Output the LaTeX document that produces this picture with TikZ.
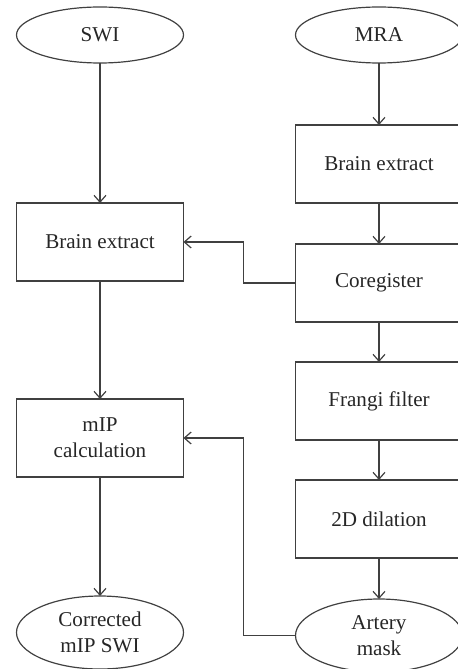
\documentclass[tikz,border=0pt]{standalone}
\usepackage{tikz}
\usetikzlibrary{arrows.meta, positioning, shapes.geometric}
\usepackage{fontspec}
\setmainfont{Liberation Serif}

\begin{document}
\begin{tikzpicture}[
    stage/.style = {rectangle, draw=black!75, line width=0.85pt,
                    minimum height=1.95cm, minimum width=4.175cm,
                    outer sep=0pt, align=center, text=black!85,
                    font=\fontsize{15}{18.5}\selectfont},
    io/.style    = {ellipse, draw=black!75, line width=0.85pt,
                    minimum height=1.4cm, minimum width=4.175cm,
                    inner sep=0pt, outer sep=0pt, align=center, text=black!85,
                    font=\fontsize{15}{18.5}\selectfont},
    arr/.style   = {-{Straight Barb[length=1.7mm, width=3mm]}, line width=0.85pt, black!75},
]

\useasboundingbox (0,0) rectangle (11.425,-16.725);

%% ---- Left branch: SWI ----
\node[io] (swi) at (2.5, -0.875) {SWI};
\node[stage, below=3.5cm of swi] (lbrain) {Brain extract};
\node[stage, below=2.95cm of lbrain] (mip) {mIP\\calculation};
\node[io, minimum height=1.825cm, below=2.975cm of mip] (corrected)
    {Corrected\\mIP SWI};

%% ---- Right branch: MRA ----
\node[io] (mra) at (9.475, -0.875) {MRA};
\node[stage, below=1.55cm of mra] (rbrain) {Brain extract};
\node[stage, below=1.025cm of rbrain] (coreg) {Coregister};
\node[stage, below=1cm of coreg] (frangi) {Frangi filter};
\node[stage, below=1cm of frangi] (dilation) {2D dilation};
\node[io, minimum height=1.825cm, below=1.025cm of dilation] (artery)
    {Artery\\mask};

%% ---- Arrows ----
\draw[arr] (swi)    -- (lbrain);
\draw[arr] (lbrain) -- (mip);
\draw[arr] (mip)    -- (corrected);

\draw[arr] (mra)      -- (rbrain);
\draw[arr] (rbrain)   -- (coreg);
\draw[arr] (coreg)    -- (frangi);
\draw[arr] (frangi)   -- (dilation);
\draw[arr] (dilation) -- (artery);

%% ---- Cross links ----
\draw[arr] (coreg.west)  -- ++(-1.3cm, 0) |- (lbrain.east);
\draw[arr] (artery.west) -- ++(-1.3cm, 0) |- (mip.east);

\end{tikzpicture}
\end{document}
